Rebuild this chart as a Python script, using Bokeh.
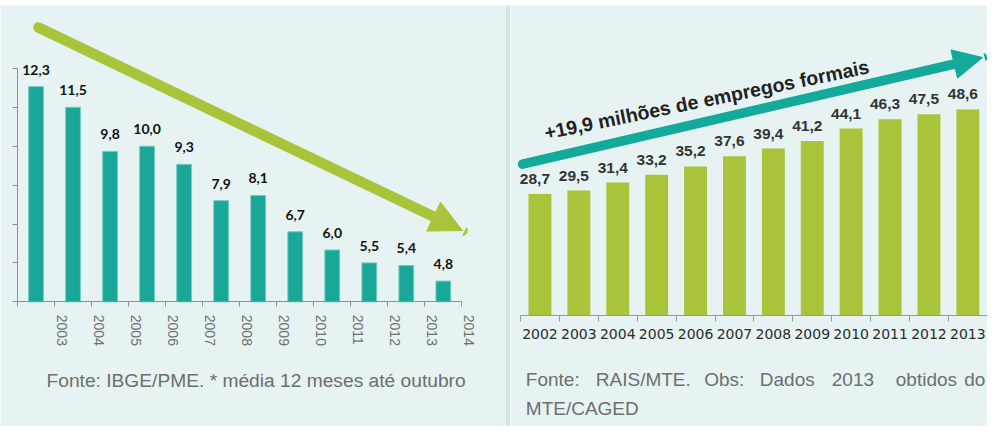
from math import radians
from bokeh.plotting import figure
from bokeh.layouts import column, row
from bokeh.models import (ColumnDataSource, LabelSet, Label, Arrow, NormalHead,
                          FixedTicker, Range1d)
from bokeh.core.properties import value
from bokeh.embed import file_html
from bokeh.resources import INLINE

# ---------------- data ----------------
desemp_years = ["2003", "2004", "2005", "2006", "2007", "2008",
                "2009", "2010", "2011", "2012", "2013", "2014"]
desemp_values = [12.3, 11.5, 9.8, 10.0, 9.3, 7.9, 8.1, 6.7, 6.0, 5.5, 5.4, 4.8]
desemp_yticks = [4, 5.5, 7, 8.5, 10, 11.5, 13]

emp_years = ["2002", "2003", "2004", "2005", "2006", "2007",
             "2008", "2009", "2010", "2011", "2012", "2013"]
emp_values = [28.7, 29.5, 31.4, 33.2, 35.2, 37.6, 39.4, 41.2, 44.1, 46.3, 47.5, 48.6]

left_note = "Fonte: IBGE/PME. * média 12 meses até outubro"
right_note_words = ["Fonte:", "RAIS/MTE.", "Obs:", "Dados", "2013", "obtidos", "do"]
right_note_line2 = "MTE/CAGED"
arrow_text = "+19,9 milhões de empregos formais"

# ---------------- style ----------------
BG = "#e7f3f2"
BAND = "#d2e8e5"
TEAL = "#19a898"
TEAL_ARROW = "#13a99b"
GREEN = "#a9c43b"
AXIS = "#8f8f8f"
NOTE = "#6e6e6e"


def fmt(v):
    return f"{v:.1f}".replace(".", ",")


def panel(w, h, color, **kw):
    f = figure(width=w, height=h, output_backend="svg", toolbar_location=None,
               min_border=0, background_fill_color=color, border_fill_color=color, **kw)
    f.outline_line_color = None
    f.grid.visible = False
    return f


TOTAL_H = 421
TOP = 13                  # page y (reference coords) of the panels' top

# ---------------- left chart ----------------
LW = 505
LX0 = 25                  # page x of category 0
LY0 = 309.3               # page y of value 4
lpx = 37.03               # px per category
lpy = 25.93               # px per unit
ymin_l = desemp_yticks[0]


def l_x(px):
    return (px - LX0) / lpx


def l_y(py):
    return ymin_l + (LY0 - py) / lpy


left = panel(LW, TOTAL_H, BG,
             x_range=Range1d(l_x(8), l_x(8 + LW)),
             y_range=Range1d(l_y(TOP + TOTAL_H), l_y(TOP)))

n = len(desemp_values)
lx = [i + 0.5 for i in range(n)]
lsrc = ColumnDataSource(dict(x=lx, top=desemp_values,
                             txt=[fmt(v) for v in desemp_values]))
left.vbar(x="x", top="top", bottom=ymin_l, width=0.4, source=lsrc,
          fill_color=TEAL, line_color="#74cbc0", line_width=1)
left.add_layout(LabelSet(x="x", y="top", text="txt", source=lsrc,
                         text_align="center", text_baseline="alphabetic",
                         y_offset=12, text_font=value("Lato"), text_font_style="bold",
                         text_font_size=value("14px"), text_color="#111111"))

xa = left.xaxis[0]
xa.fixed_location = ymin_l
lab_pos = [i + 0.2 for i in range(1, n + 1)]
xa.ticker = FixedTicker(ticks=lab_pos, minor_ticks=list(range(0, n + 1)))
xa.major_label_overrides = {p: y for p, y in zip(lab_pos, desemp_years)}
xa.bounds = (0, n)
xa.major_tick_out = 0
xa.major_tick_in = 0
xa.minor_tick_out = 5
xa.minor_tick_in = 0
xa.minor_tick_line_color = AXIS
xa.axis_line_color = AXIS
xa.major_label_orientation = "vertical"
xa.major_label_standoff = 8
xa.major_label_text_font = "Liberation Sans"
xa.major_label_text_font_size = "14px"
xa.major_label_text_color = "#707070"

ya = left.yaxis[0]
ya.fixed_location = 0
ya.ticker = FixedTicker(ticks=desemp_yticks)
ya.major_label_overrides = {t: "" for t in desemp_yticks}
ya.bounds = (desemp_yticks[0], desemp_yticks[-1])
ya.major_tick_out = 5
ya.major_tick_in = 0
ya.minor_tick_out = 0
ya.minor_tick_in = 0
ya.major_tick_line_color = AXIS
ya.axis_line_color = AXIS
ya.major_label_standoff = 0

left.add_layout(Arrow(end=NormalHead(size=32, fill_color=GREEN, line_color=GREEN,
                                     line_width=1),
                      x_start=l_x(46), y_start=l_y(35), x_end=l_x(470), y_end=l_y(238),
                      line_color=GREEN, line_width=10.5, line_cap="round"))

left.text(x=[l_x(54)], y=[l_y(387.5)], text=[left_note],
          text_font=value("Liberation Sans"), text_font_size=value("19.2px"),
          text_color=NOTE, text_baseline="alphabetic", text_align="left")

# ---------------- right chart ----------------
RW = 477
RX0 = 528                 # page x of category 0
RY0 = 323.3               # page y of value 0
rpx = 38.9
rpy = 4.245


def r_x(px):
    return (px - RX0) / rpx


def r_y(py):
    return (RY0 - py) / rpy


right = panel(RW, TOTAL_H, BG,
              x_range=Range1d(r_x(518), r_x(518 + RW)),
              y_range=Range1d(r_y(TOP + TOTAL_H), r_y(TOP)),
              y_axis_location=None)

m = len(emp_values)
rx = [i + 0.5 for i in range(m)]
rsrc = ColumnDataSource(dict(x=rx, top=emp_values, txt=[fmt(v) for v in emp_values]))
right.vbar(x="x", top="top", bottom=0, width=0.59, source=rsrc,
           fill_color=GREEN, line_color=None)
right.add_layout(LabelSet(x="x", y="top", text="txt", source=rsrc,
                          text_align="center", text_baseline="alphabetic",
                          x_offset=-5, y_offset=10, text_font=value("Liberation Sans"),
                          text_font_style="bold", text_font_size=value("15.5px"),
                          text_color="#333333"))

rxa = right.xaxis[0]
rxa.fixed_location = 0
rxa.ticker = FixedTicker(ticks=rx, minor_ticks=list(range(0, m + 1)))
rxa.major_label_overrides = {p: y for p, y in zip(rx, emp_years)}
rxa.bounds = (0, m)
rxa.major_tick_out = 0
rxa.major_tick_in = 0
rxa.minor_tick_out = 6
rxa.minor_tick_in = 0
rxa.minor_tick_line_color = "#999999"
rxa.axis_line_color = "#999999"
rxa.major_label_standoff = 7
rxa.major_label_text_font = "DejaVu Sans"
rxa.major_label_text_font_size = "14px"
rxa.major_label_text_color = "#2b2b2b"

right.add_layout(Arrow(end=NormalHead(size=29, fill_color=TEAL_ARROW, line_color=TEAL_ARROW,
                                      line_width=1),
                       x_start=r_x(530), y_start=r_y(171.7), x_end=r_x(990), y_end=r_y(65),
                       line_color=TEAL_ARROW, line_width=9.5, line_cap="round"))

right.add_layout(Label(x=r_x(552), y=r_y(140.3), text=arrow_text, angle=radians(11.6),
                       text_font="Liberation Sans", text_font_style="bold",
                       text_font_size="19.5px", text_color="#222222",
                       text_baseline="alphabetic"))

word_px = [533.3, 603.3, 711.7, 767.3, 839.3, 903.3, 971.7]
right.text(x=[r_x(v) for v in word_px] + [r_x(533.3)],
           y=[r_y(386.5)] * len(word_px) + [r_y(416.0)],
           text=right_note_words + [right_note_line2],
           text_font=value("Liberation Sans"), text_font_size=value("19px"),
           text_color=NOTE, text_baseline="alphabetic", text_align="left")

# ---------------- layout ----------------
band = panel(LW + 5 + RW, 5, BAND, x_axis_location=None, y_axis_location=None)
divider = panel(5, TOTAL_H, BAND, x_axis_location=None, y_axis_location=None)
p = column(band, row(left, divider, right))

open("out.html", "w").write(file_html(p, INLINE))
